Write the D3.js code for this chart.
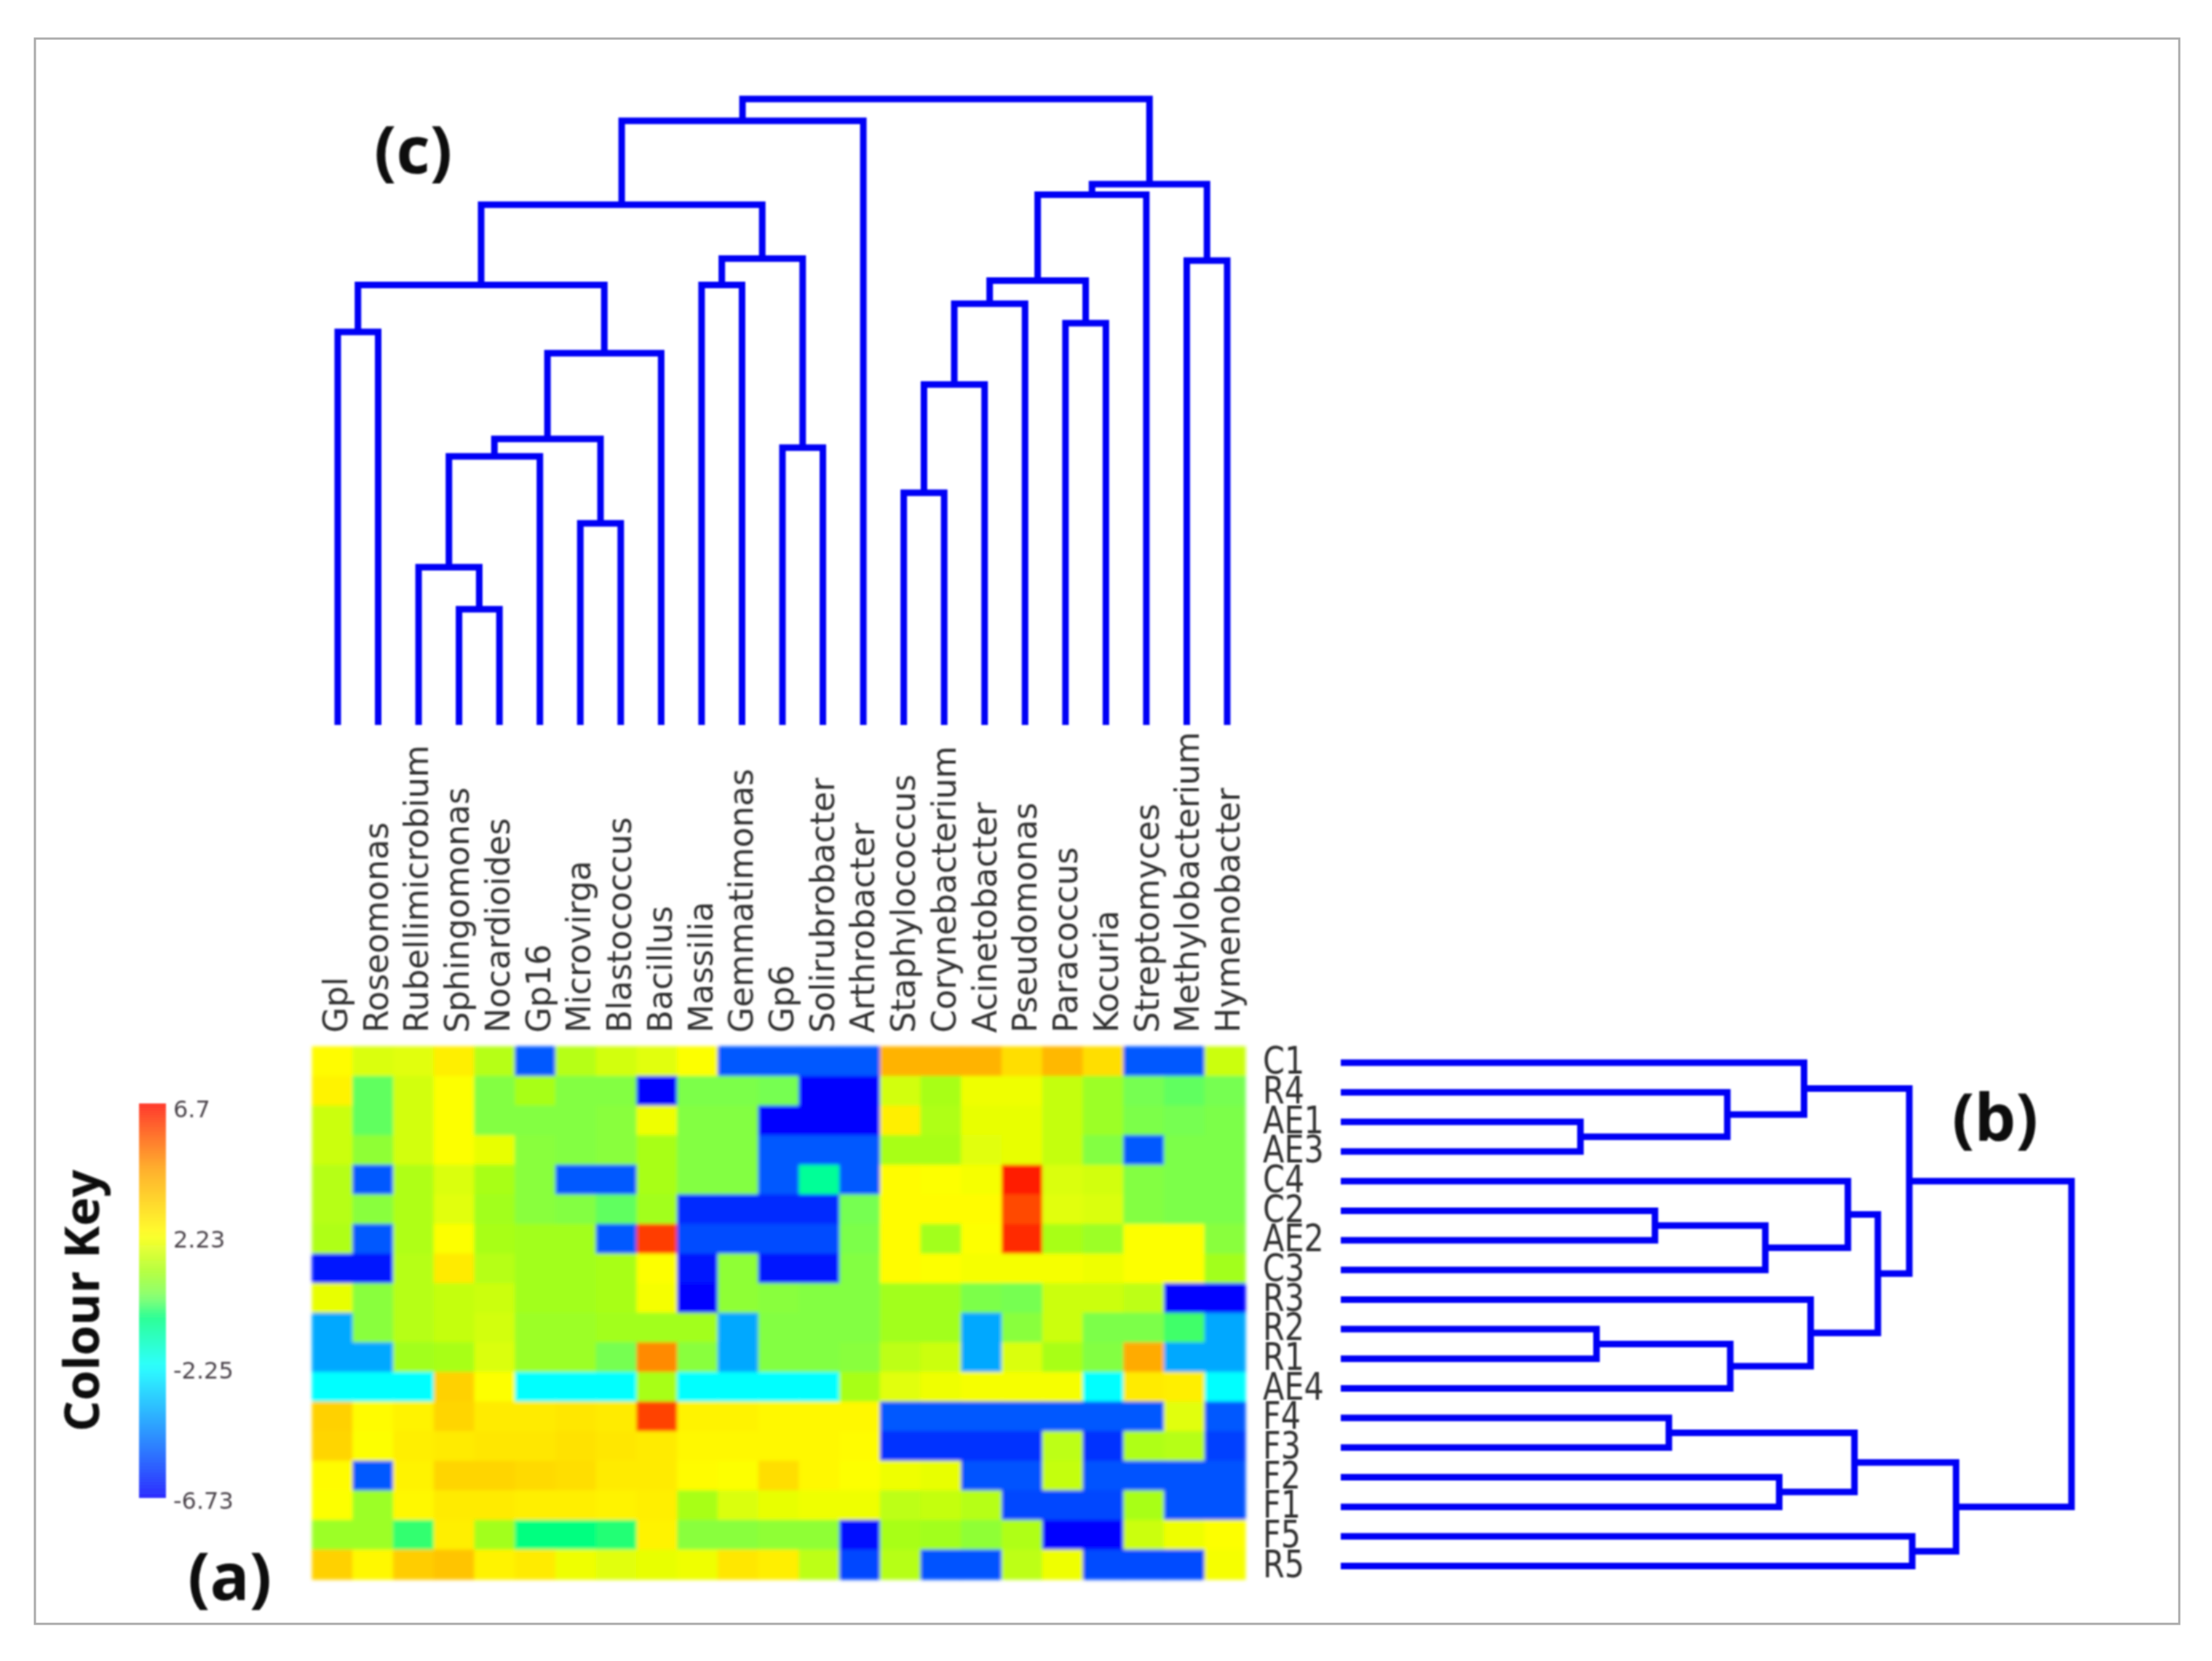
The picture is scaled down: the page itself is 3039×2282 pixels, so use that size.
<!DOCTYPE html>
<html><head><meta charset="utf-8">
<script src="https://cdnjs.cloudflare.com/ajax/libs/d3/7.8.5/d3.min.js"></script>
<style>html,body{margin:0;padding:0;background:#fff}svg{display:block}</style>
</head><body>
<script>
const genera = ["Gpl","Roseomonas","Rubellimicrobium","Sphingomonas","Nocardioides","Gp16","Microvirga","Blastococcus","Bacillus","Massilia","Gemmatimonas","Gp6","Solirubrobacter","Arthrobacter","Staphylococcus","Corynebacterium","Acinetobacter","Pseudomonas","Paracoccus","Kocuria","Streptomyces","Methylobacterium","Hymenobacter"];
const samples = ["C1","R4","AE1","AE3","C4","C2","AE2","C3","R3","R2","R1","AE4","F4","F3","F2","F1","F5","R5"];
const heatValues = [
[2.3,1.7,1.8,2.6,1.2,-5.2,1.2,1.6,1.8,2.2,-5.2,-5.2,-5.2,-5.2,4,4,4,3,3.9,3,-5.2,-5.2,1.5],
[2.5,0,1.6,2.2,.4,1,.4,.4,-6.7,.3,.3,.2,-6.7,-6.7,1.6,1,2,2,1.4,.8,.2,0,.2],
[1.5,0,1.6,2.2,.4,.4,.4,.5,2,.4,.4,-6.7,-6.7,-6.7,2.6,1.1,1.9,1.9,1.4,.8,.3,.2,.3],
[1.5,.6,1.6,2.2,1.9,.5,.4,.5,1,.4,.4,-5.2,-5.2,-5.2,1,1,1.8,1.9,1.4,.4,-5.2,.3,.3],
[1.2,-5.2,1.1,1.7,1,.5,-5.2,-5.2,1,.4,.4,-5.2,-.9,-5.2,2.3,2.2,2.1,6.5,1.7,1.6,.4,.3,.3],
[1.2,.5,1.1,1.8,.9,.5,.4,0,.9,-6,-6,-6,-6,.2,2.3,2.3,2.3,5.8,1.8,1.7,.4,.3,.3],
[1.1,-5.2,1.1,2.2,1,.9,.9,-5.2,6,-5.4,-5.4,-5.4,-5.4,.3,2.3,.9,2.2,6.3,1,.8,2.2,2.2,.5],
[-6.3,-6.3,1.2,2.7,1.2,.9,.9,1,2.2,-6.3,.6,-6.3,-6.3,.4,2.3,2.2,2.1,2.1,2.1,2,2.2,2.2,.9],
[1.9,.5,1.2,1.4,1.5,.9,.9,1,2.1,-6.7,.6,.5,.4,.4,.9,.9,.3,.2,1.5,1.5,1.3,-6.7,-6.7],
[-3.8,.5,1.2,1.4,1.6,.8,.8,.9,.9,.9,-3.8,.4,.4,.4,.9,.9,-3.8,.5,1.5,.3,.3,-.2,-3.8],
[-3.8,-3.8,.9,1,1.7,.8,.8,.2,4.8,.5,-3.8,.4,.4,.5,1.3,1.5,-3.8,1.7,1,.4,4.2,-3.8,-3.8],
[-2.25,-2.25,-2.25,3.3,2.2,-2.25,-2.25,-2.25,1,-2.25,-2.25,-2.25,-2.25,1,1.8,2,2.1,2.1,2.1,-2.25,2.7,2.6,-2.25],
[3.3,2.3,2.5,3.2,2.7,2.7,2.8,2.7,5.9,2.5,2.5,2.4,2.4,2.4,-5.2,-5.2,-5.2,-5.2,-5.2,-5.2,-5.2,1.8,-5.2],
[3.2,2.2,2.6,2.7,2.8,2.8,2.9,2.8,2.7,2.4,2.4,2.4,2.4,2.3,-5.9,-5.9,-5.9,-5.9,1.3,-5.9,1.1,1.2,-5.6],
[2.3,-5.2,2.5,3.2,3.2,3.1,3,2.7,2.7,2.3,2.2,3,2.4,2.2,2,1.9,-5.3,-5.3,1.4,-5.3,-5.3,-5.3,-5.3],
[2.2,.8,2.4,2.7,2.7,2.6,2.6,2.5,2.6,1,1.7,1.9,2,2,1.3,1.4,1.2,-5.5,-5.5,-5.5,1,-5.3,-5.3],
[.8,.8,-.3,2.6,.9,-.6,-.6,-.4,2.5,.5,.5,.6,.6,-6.6,1,.9,.6,1.1,-6.7,-6.7,1.5,2,2.2],
[3.3,2.4,3.4,3.6,2.5,2.7,2,1.8,1.9,2,2.8,2.6,1.3,-5.5,1.2,-5.3,-5.3,1.3,2,-5.4,-5.4,-5.4,2.1]
];
const colourStops = [-6.73,-4.5,-2.25,-0.6,0.1,1.0,2.23,4.45,6.7];
const colourRange = ["#0000ff","#0080ff","#00ffff","#00ff80","#70ff58","#a8ff18","#ffff00","#ffa000","#ff1000"];
const keyTicks = [6.7,2.23,-2.25,-6.73];
// dendrogram merges: [child, child, height]; child < n is a leaf, otherwise a previous merge (n + index)
const colMerges = [[3,4,18.5],[2,23,25.2],[24,5,42.9],[6,7,32.2],[25,26,45.7],[27,8,59.4],[0,1,62.8],[29,28,70.3],[9,10,70.3],[11,12,44.3],[31,32,74.5],[30,33,83.1],[34,13,96.5],[14,15,37.1],[36,16,54.4],[37,17,67.3],[18,19,64.2],[38,39,71],[40,20,84.7],[21,22,74.2],[41,42,86.4],[35,43,100]];
const rowMerges = [[2,3,32.8],[1,18,52.9],[0,19,63.4],[5,6,43],[21,7,58.1],[4,22,69.4],[9,10,35],[24,11,53.3],[8,25,64.3],[23,26,73.5],[20,27,77.8],[12,13,44.9],[14,15,60],[29,30,70.3],[16,17,78.2],[31,32,84.2],[28,33,100]];

const W = 3039, H = 2282;
const svg = d3.select("body").append("svg").attr("width",W).attr("height",H).attr("viewBox",`0 0 ${W} ${H}`);
const defs = svg.append("defs");
const blur = (id,s)=>defs.append("filter").attr("id",id).attr("x","-5%").attr("y","-5%").attr("width","110%").attr("height","110%")
  .append("feGaussianBlur").attr("stdDeviation",s);
blur("soft",2.5); blur("txt",0.8); blur("line",0.8);

svg.append("rect").attr("width",W).attr("height",H).attr("fill","#fff");
svg.append("rect").attr("x",48).attr("y",53).attr("width",2946).attr("height",2178).attr("fill","#fff").attr("stroke","#a9a9a9").attr("stroke-width",3);

const colour = d3.scaleLinear().domain(colourStops).range(colourRange).clamp(true);

// heat map
const x = d3.scaleBand().domain(d3.range(genera.length)).range([429,1711]);
const y = d3.scaleBand().domain(d3.range(samples.length)).range([1438,2170]);
const heat = svg.append("g").attr("filter","url(#soft)");
heatValues.forEach((row,r)=>{
  heat.selectAll(null).data(row).join("rect")
    .attr("x",(d,c)=>x(c)-0.5).attr("y",y(r)-0.5)
    .attr("width",x.bandwidth()+1).attr("height",y.bandwidth()+1)
    .attr("fill",d=>colour(d));
});

// labels
const txt = svg.append("g").attr("filter","url(#txt)").attr("font-family","'DejaVu Sans'").attr("fill","#333");
txt.selectAll(null).data(genera).join("text")
  .attr("transform",(d,i)=>`translate(${x(i)+x.bandwidth()/2+20},1419) rotate(-90)`)
  .attr("font-size",45.5).text(d=>d);
txt.selectAll(null).data(samples).join("text")
  .attr("transform",(d,i)=>`translate(1735,${y(i)+y.bandwidth()/2+17}) scale(1,1.2)`)
  .attr("font-size",43).text(d=>d);

// dendrograms
function layout(merges,n){
  const pos = d3.range(n).map(i=>({p:i,h:0}));
  const segs = [];
  merges.forEach(([a,b,h])=>{
    const A=pos[a],B=pos[b];
    segs.push([[A.p,A.h],[A.p,h],[B.p,h],[B.p,B.h]]);
    pos.push({p:(A.p+B.p)/2,h});
  });
  return segs;
}
const dendro = svg.append("g").attr("filter","url(#line)").attr("fill","none").attr("stroke","#0505f5").attr("stroke-width",9).attr("stroke-linejoin","miter");
const cx = d3.scaleLinear().domain([0,genera.length-1]).range([464,1686]);
const cy = d3.scaleLinear().domain([0,100]).range([996,136]);
const line = d3.line();
dendro.selectAll(null).data(layout(colMerges,genera.length)).join("path")
  .attr("d",s=>line(s.map(([p,h])=>[cx(p),cy(h)])));
const ry = d3.scaleLinear().domain([0,samples.length-1]).range([1460,2151.5]);
const rx = d3.scaleLinear().domain([0,100]).range([1842,2846]);
dendro.selectAll(null).data(layout(rowMerges,samples.length)).join("path")
  .attr("d",s=>line(s.map(([p,h])=>[rx(h),ry(p)])));

// colour key
const keyPos = d3.scalePoint().domain(keyTicks).range([1523,2061]);
const grad = defs.append("linearGradient").attr("id","key").attr("x1",0).attr("x2",0).attr("y1",0).attr("y2",1);
d3.range(0,1.001,0.02).forEach(t=>{
  const v = 6.7 + t*(-6.73-6.7);
  grad.append("stop").attr("offset",t).attr("stop-color",colour(v));
});
svg.append("rect").attr("x",191).attr("y",1516).attr("width",37).attr("height",542).attr("fill","url(#key)").attr("opacity",0.82).attr("filter","url(#txt)");
const keyAxis = svg.append("g").attr("filter","url(#txt)").attr("font-family","'DejaVu Sans'").attr("fill","#4c454c").attr("font-size",32);
keyAxis.selectAll(null).data(keyTicks).join("text")
  .attr("x",238).attr("y",d=>keyPos(d)+12).text(d=>d);

// titles
const bold = svg.append("g").attr("filter","url(#txt)").attr("font-family","'Open Sans'").attr("font-weight",700).attr("fill","#0a0a0a");
bold.append("text").attr("transform","translate(136,1967) rotate(-90)").attr("font-size",67).text("Colour Key");
bold.append("text").attr("x",258).attr("y",2198).attr("font-size",90).text("(a)");
bold.append("text").attr("x",2682).attr("y",1567).attr("font-size",90).text("(b)");
bold.append("text").attr("x",514).attr("y",238).attr("font-size",90).text("(c)");
</script>
</body></html>
